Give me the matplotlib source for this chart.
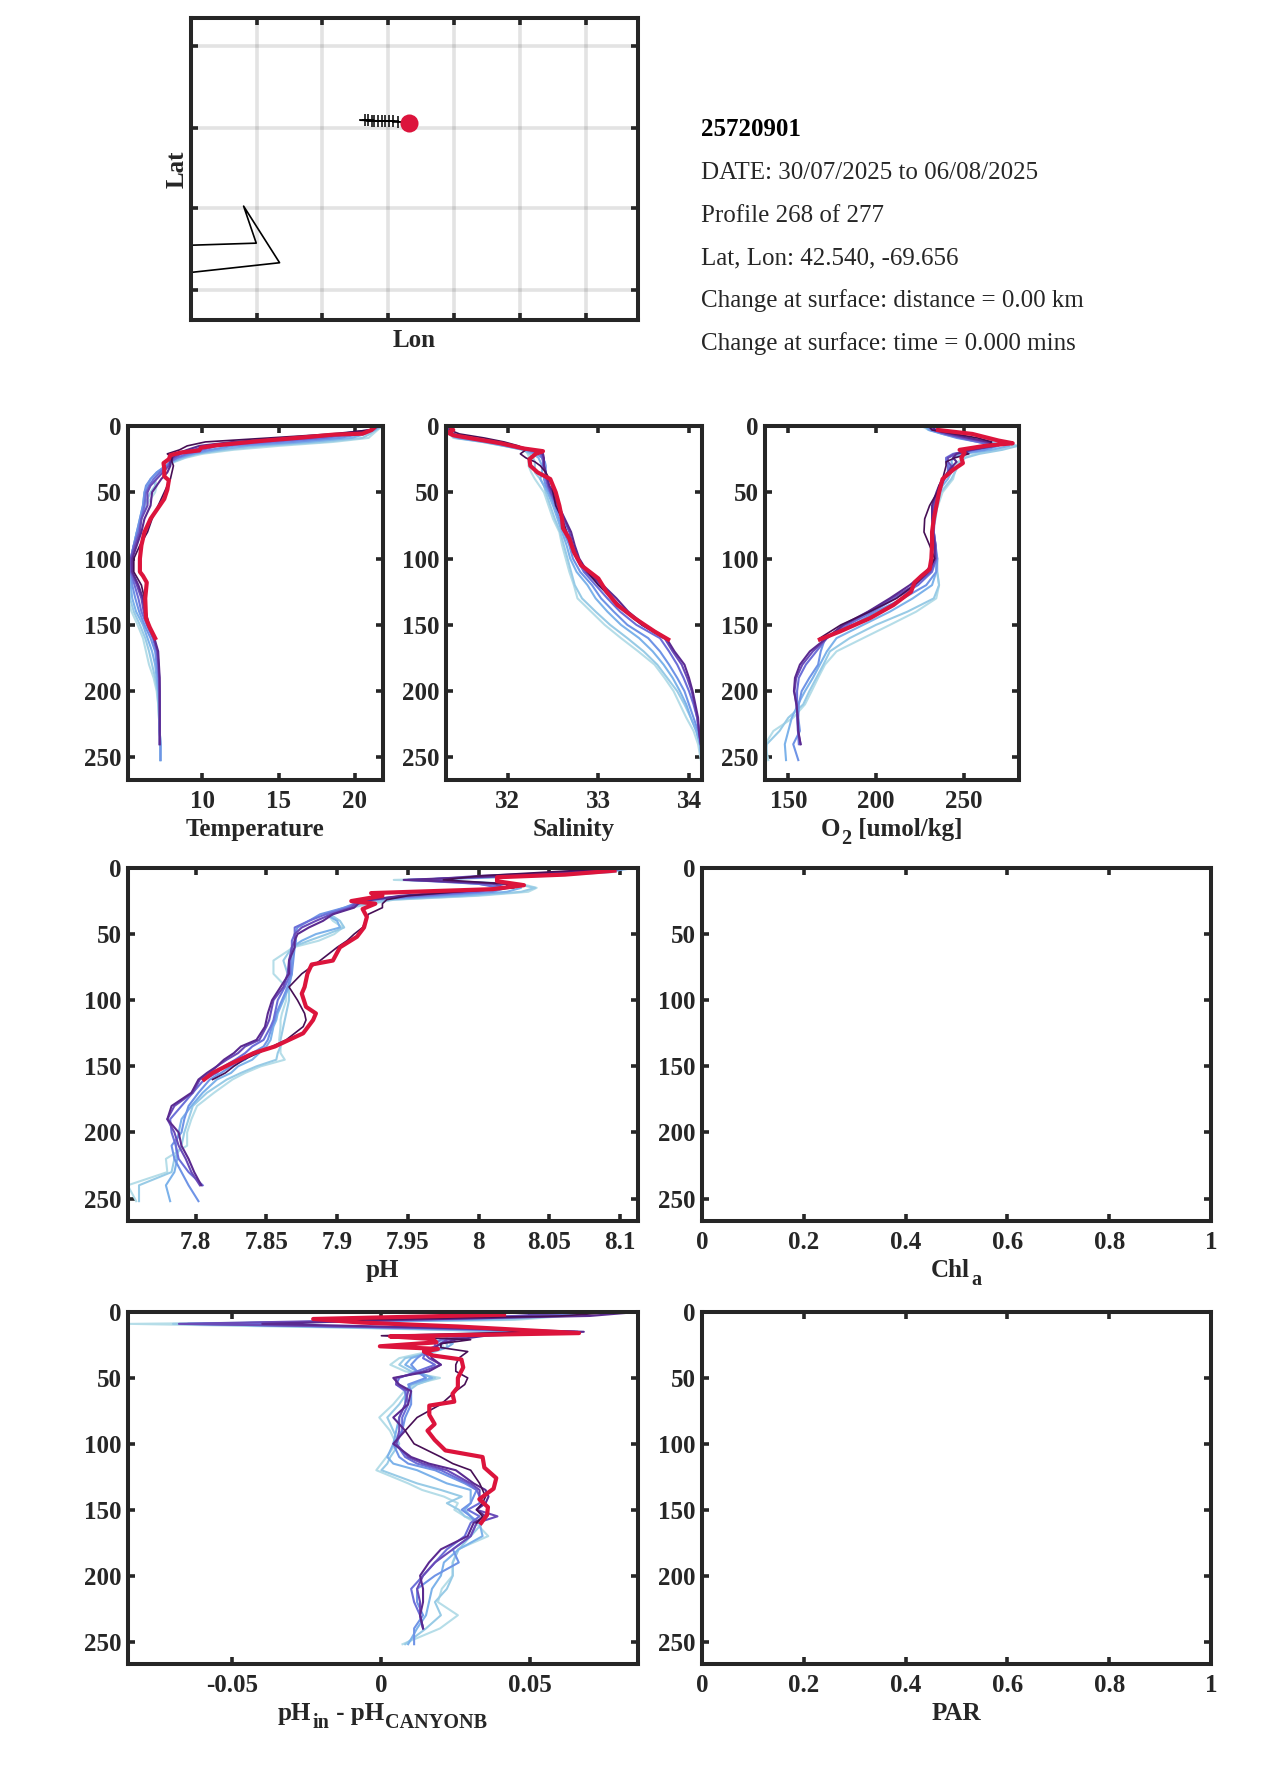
import matplotlib
matplotlib.use('Agg')
import matplotlib.pyplot as plt

plt.rcParams['font.family'] = ['Liberation Serif', 'DejaVu Serif']
plt.rcParams['font.weight'] = 'bold'

W, H = 1275, 1771
dark = '#262626'
red = '#dc143c'
# light blue to dark purple, oldest profile first
colours = ['#b5dde8', '#98cbe6', '#7cb2ea', '#6f94e6', '#6c6fd8', '#6a4bb8', '#5b2a90', '#470f55']

# depth levels
z_ctd = [0, 3, 6, 9, 12, 15, 18, 21, 24, 27, 30, 35, 40, 45, 50, 60, 70, 80, 90, 100, 110, 120, 130, 140, 150, 160,
         170, 180, 190, 200, 210, 220, 230, 240, 252]
z_ph = [0, 3, 6, 9, 12, 15, 18, 21, 24, 27, 30, 35, 40, 45, 50, 55, 60, 70, 80, 90, 100, 110, 115, 120, 130, 135,
        140, 145, 150, 155, 160, 170, 180, 190, 200, 210, 220, 230, 240, 252]

# temperature
temp_l1 = [21.8, 21.5, 21.2, 20.9, 18.6, 15.0, 12.0, 10.0, 8.9, 8.2, 7.7, 7.3, 6.9, 7.0, 6.9, 6.3, 6.0, 5.7, 5.5, 5.3, 5.2, 5.15, 5.1, 5.35, 5.75, 6.1, 6.3, 6.5, 6.8, 7.0, 7.1, 7.15, 7.2, 7.25, 7.25]
temp_l2 = [21.8, 21.4, 21.0, 20.5, 18.0, 14.0, 11.5, 9.7, 8.8, 8.1, 7.7, 7.2, 6.8, 6.9, 6.6, 6.2, 6.0, 5.7, 5.5, 5.3, 5.2, 5.2, 5.25, 5.5, 5.9, 6.25, 6.5, 6.7, 6.9, 7.05, 7.1, 7.15, 7.2, 7.25, 7.25]
temp_b1 = [21.7, 21.3, 20.7, 19.8, 17.0, 13.0, 11.0, 9.5, 8.6, 8.0, 7.6, 7.0, 6.6, 6.4, 6.2, 6.1, 5.9, 5.7, 5.5, 5.3, 5.2, 5.3, 5.4, 5.65, 6.1, 6.4, 6.7, 6.9, 7.0, 7.1, 7.15, 7.2, 7.2, 7.25, 7.25]
temp_b2 = [21.6, 21.2, 20.4, 19.0, 16.0, 12.0, 10.5, 9.3, 8.4, 7.9, 7.6, 7.0, 6.6, 6.3, 6.2, 6.1, 5.9, 5.7, 5.5, 5.3, 5.3, 5.4, 5.6, 5.85, 6.2, 6.6, 6.9, 7.0, 7.1, 7.15, 7.2, 7.2, 7.2, 7.25, 7.25]
temp_s1 = [21.5, 21.1, 20.0, 18.0, 14.5, 11.0, 10.0, 9.0, 8.3, 7.9, 7.7, 7.2, 6.8, 6.5, 6.3, 6.2, 6.0, 5.8, 5.5, 5.3, 5.3, 5.55, 5.8, 6.0, 6.35, 6.75, 7.0, 7.1, 7.15, 7.18, 7.2, 7.2, 7.2, 7.2]
temp_s2 = [21.5, 21.1, 19.6, 17.0, 13.0, 10.4, 9.4, 8.6, 8.1, 7.9, 7.8, 7.4, 7.0, 6.6, 6.4, 6.4, 6.0, 5.9, 5.6, 5.3, 5.35, 5.7, 6.0, 6.15, 6.4, 6.8, 7.05, 7.12, 7.17, 7.2, 7.2, 7.2, 7.2, 7.2]
temp_p1 = [21.4, 21.0, 19.0, 16.0, 12.0, 9.8, 9.0, 8.3, 8.0, 7.9, 7.9, 7.7, 7.3, 7.0, 6.7, 6.6, 6.2, 6.0, 5.7, 5.4, 5.4, 5.8, 6.1, 6.25, 6.45, 6.85, 7.1, 7.15, 7.2, 7.2, 7.2, 7.2, 7.2, 7.2]
temp_d = [21.3, 21.0, 18.5, 14.4, 10.2, 9.0, 8.5, 7.7, 8.0, 8.0, 8.1, 8.0, 7.9, 7.7, 7.5, 7.1, 6.7, 6.4, 5.9, 5.5, 5.5, 6.0, 6.2, 6.3, 6.5, 6.9]
temp_red_z = [1, 3, 5.8, 6.5, 8.8, 11.3, 14.6, 16.4, 18.4, 20, 22, 25, 28, 32, 38, 41, 48, 55, 60, 70, 80, 90, 100, 110, 113, 118, 130, 145, 152, 160]
temp_red = [21.3, 21.1, 20.5, 18.6, 16.4, 13.8, 10.9, 9.9, 9.8, 8.6, 7.9, 7.8, 7.45, 7.5, 7.5, 7.8, 7.7, 7.5, 7.2, 6.6, 6.2, 6.0, 5.9, 5.9, 6.1, 6.35, 6.25, 6.3, 6.55, 6.9]

# salinity
sal_l1 = [31.36, 31.35, 31.36, 31.4, 31.72, 31.95, 32.2, 32.22, 32.24, 32.23, 32.23, 32.26, 32.3, 32.35, 32.4, 32.45, 32.5, 32.57, 32.6, 32.64, 32.68, 32.73, 32.77, 32.92, 33.07, 33.25, 33.44, 33.62, 33.73, 33.83, 33.9, 33.97, 34.05, 34.1, 34.13]
sal_l2 = [31.36, 31.35, 31.36, 31.42, 31.72, 31.96, 32.17, 32.24, 32.28, 32.3, 32.3, 32.3, 32.36, 32.4, 32.42, 32.47, 32.52, 32.58, 32.62, 32.66, 32.7, 32.74, 32.82, 32.97, 33.13, 33.32, 33.5, 33.65, 33.76, 33.87, 33.95, 34.02, 34.08, 34.12, 34.14]
sal_b1 = [31.34, 31.34, 31.36, 31.44, 31.74, 31.97, 32.17, 32.28, 32.34, 32.36, 32.38, 32.38, 32.36, 32.4, 32.44, 32.5, 32.55, 32.6, 32.65, 32.69, 32.76, 32.88, 32.97, 33.1, 33.25, 33.45, 33.6, 33.72, 33.82, 33.9, 33.97, 34.02, 34.08, 34.12, 34.14]
sal_b2 = [31.34, 31.34, 31.36, 31.46, 31.76, 31.98, 32.2, 32.32, 32.38, 32.41, 32.42, 32.42, 32.4, 32.42, 32.46, 32.52, 32.57, 32.62, 32.68, 32.72, 32.8, 32.93, 33.03, 33.17, 33.32, 33.55, 33.68, 33.78, 33.87, 33.95, 34.0, 34.05, 34.1, 34.13, 34.14]
sal_s1 = [31.34, 31.34, 31.38, 31.55, 31.82, 32.02, 32.22, 32.36, 32.38, 32.39, 32.39, 32.42, 32.42, 32.44, 32.47, 32.54, 32.6, 32.65, 32.7, 32.76, 32.84, 32.97, 33.1, 33.24, 33.42, 33.68, 33.78, 33.87, 33.94, 34.0, 34.05, 34.09, 34.11, 34.13]
sal_s2 = [31.34, 31.34, 31.38, 31.55, 31.84, 32.04, 32.24, 32.38, 32.39, 32.4, 32.4, 32.42, 32.43, 32.45, 32.48, 32.55, 32.62, 32.68, 32.72, 32.78, 32.86, 33.02, 33.16, 33.3, 33.48, 33.73, 33.82, 33.92, 33.98, 34.03, 34.06, 34.09, 34.11, 34.13]
sal_p1 = [31.36, 31.36, 31.4, 31.58, 31.88, 32.08, 32.28, 32.39, 32.4, 32.4, 32.4, 32.42, 32.44, 32.46, 32.5, 32.56, 32.63, 32.7, 32.74, 32.79, 32.88, 33.05, 33.2, 33.33, 33.51, 33.75, 33.84, 33.95, 34.0, 34.04, 34.07, 34.1, 34.11, 34.13]
sal_d = [31.36, 31.36, 31.47, 31.74, 31.96, 32.12, 32.2, 32.14, 32.2, 32.3, 32.36, 32.42, 32.46, 32.49, 32.5, 32.53, 32.6, 32.65, 32.7, 32.78, 32.88, 33.0, 33.15, 33.3, 33.48, 33.72]
sal_red_z = [0, 3, 5, 7, 10, 13, 17, 19, 21, 25, 30, 35, 40, 50, 60, 70, 77, 85, 95, 105, 115, 125, 135, 145, 155, 161]
sal_red = [31.36, 31.4, 31.34, 31.4, 31.66, 31.92, 32.18, 32.39, 32.31, 32.24, 32.25, 32.33, 32.47, 32.53, 32.57, 32.6, 32.61, 32.68, 32.73, 32.81, 33.0, 33.09, 33.21, 33.4, 33.62, 33.77]

# oxygen
o2_l1 = [226, 230, 240, 250, 272, 278, 268, 257, 250, 247, 246, 245, 244, 241, 238, 235.4, 233, 231.6, 232.5, 234.4, 234.8, 236, 234.4, 223, 208, 192.7, 177.5, 170.9, 167, 163.3, 159.5, 152.8, 141.5, 136.8, 138.6]
o2_l2 = [227, 231, 242, 252, 270, 281, 272, 259, 251, 248, 247, 245, 243, 240, 237, 235, 234, 232, 233, 235, 235, 236, 233, 218, 200, 185, 173.7, 170, 166, 162, 158.5, 150, 145, 137.7, 137.3]
o2_b1 = [228, 230, 238, 248, 262, 276, 266, 250, 244, 243, 244, 243, 241, 238, 236, 234.5, 233, 232.5, 233.5, 234.5, 234.4, 232, 221, 208, 192.7, 177.5, 172, 168, 164, 159.5, 155.5, 152, 150, 148, 148.7]
o2_b2 = [229, 231, 238, 246, 258, 270, 262, 246, 241, 241, 242, 241, 239, 237, 235, 234, 233, 233, 234, 235, 234.4, 228.7, 215.5, 200, 187, 171, 168.5, 167, 162, 157.6, 156, 155.7, 156.6, 152.8, 155.7]
o2_s1 = [230, 232, 240, 248, 258, 268, 256, 244, 240, 240, 241, 241, 239, 237, 235, 234, 233.5, 233, 234, 234.5, 232, 224, 211, 198, 184, 172, 166, 160, 156, 155, 155, 155, 155.5, 156]
o2_s2 = [232, 233, 240, 250, 262, 268, 255, 245, 241, 241, 243, 241, 239, 237, 235, 233, 233, 233, 234, 234, 231, 222, 209, 196, 182, 172, 164, 158, 154.5, 153.5, 154.5, 155.5, 155.5, 157]
o2_p1 = [232, 234, 243, 253, 264, 267, 254, 246, 244, 246, 244, 241, 238, 236, 234.5, 232, 232, 232.5, 233.5, 233.5, 228.7, 219.3, 207.9, 195.5, 181.3, 171.8, 162.3, 156.6, 153.8, 153.2, 154.7, 155.3, 155.7, 157]
o2_d = [230, 232, 245, 258, 266, 264, 248, 253, 245, 240, 240, 239, 238, 236, 235, 230.6, 227.8, 227.4, 230.6, 233.5, 229.7, 222, 211.7, 196.5, 180, 168]
o2_red_z = [3, 6, 11, 13, 15, 18, 20, 24, 28, 33, 40, 50, 60, 70, 80, 90, 100, 108, 113, 118, 125, 135, 145, 155, 161]
o2_red = [235.4, 255, 270, 278, 262, 247.7, 250.6, 248.7, 249.6, 244, 238, 236, 234.5, 233, 232, 232, 231.6, 230.6, 226, 222, 220, 210, 196.5, 179.4, 168]

# pH
ph_l1 = [8.102, 8.096, 8.05, 7.94, 8.03, 8.041, 8.035, 8.0, 7.94, 7.925, 7.91, 7.893, 7.897, 7.904, 7.898, 7.887, 7.869, 7.855, 7.855, 7.864, 7.864, 7.861, 7.86, 7.86, 7.859, 7.86, 7.86, 7.863, 7.846, 7.835, 7.826, 7.813, 7.801, 7.797, 7.794, 7.794, 7.779, 7.78, 7.752, 7.758]
ph_l2 = [8.103, 8.094, 8.045, 7.96, 8.025, 8.04, 8.03, 7.995, 7.938, 7.922, 7.908, 7.895, 7.902, 7.905, 7.893, 7.88, 7.868, 7.862, 7.865, 7.866, 7.866, 7.864, 7.863, 7.862, 7.86, 7.86, 7.858, 7.857, 7.843, 7.832, 7.822, 7.808, 7.798, 7.795, 7.792, 7.79, 7.785, 7.783, 7.76, 7.76]
ph_b1 = [8.11, 8.09, 8.03, 7.95, 8.02, 8.03, 8.02, 7.985, 7.93, 7.915, 7.905, 7.892, 7.9, 7.902, 7.885, 7.875, 7.868, 7.868, 7.868, 7.866, 7.862, 7.858, 7.857, 7.855, 7.853, 7.85, 7.845, 7.84, 7.83, 7.825, 7.815, 7.805, 7.797, 7.79, 7.788, 7.786, 7.787, 7.785, 7.779, 7.782]
ph_b2 = [8.108, 8.085, 8.02, 7.96, 8.0, 8.02, 8.01, 7.97, 7.925, 7.912, 7.905, 7.888, 7.88, 7.872, 7.87, 7.871, 7.87, 7.869, 7.868, 7.865, 7.861, 7.857, 7.856, 7.854, 7.851, 7.848, 7.84, 7.835, 7.825, 7.818, 7.81, 7.802, 7.795, 7.792, 7.79, 7.783, 7.785, 7.79, 7.795, 7.802]
ph_s1 = [8.105, 8.08, 8.03, 7.95, 8.0, 8.015, 8.0, 7.96, 7.92, 7.912, 7.908, 7.892, 7.88, 7.87, 7.87, 7.868, 7.868, 7.867, 7.867, 7.863, 7.858, 7.856, 7.855, 7.853, 7.848, 7.84, 7.835, 7.828, 7.82, 7.815, 7.806, 7.798, 7.79, 7.782, 7.783, 7.786, 7.788, 7.795, 7.805]
ph_s2 = [8.108, 8.07, 8.0, 7.96, 8.01, 8.02, 7.99, 7.95, 7.92, 7.913, 7.91, 7.896, 7.885, 7.875, 7.87, 7.87, 7.868, 7.866, 7.865, 7.862, 7.855, 7.853, 7.852, 7.85, 7.845, 7.835, 7.83, 7.822, 7.815, 7.81, 7.803, 7.798, 7.785, 7.78, 7.785, 7.788, 7.793, 7.797, 7.803]
ph_p1 = [8.113, 8.06, 8.02, 7.947, 8.02, 8.02, 7.98, 7.945, 7.925, 7.915, 7.912, 7.897, 7.89, 7.88, 7.872, 7.87, 7.87, 7.866, 7.866, 7.86, 7.854, 7.851, 7.85, 7.849, 7.843, 7.832, 7.827, 7.82, 7.815, 7.808, 7.802, 7.797, 7.783, 7.78, 7.788, 7.79, 7.795, 7.799, 7.804]
ph_d = [8.1, 8.05, 8.0, 7.975, 8.02, 8.025, 7.985, 7.95, 7.935, 7.932, 7.932, 7.922, 7.92, 7.918, 7.912, 7.907, 7.9, 7.888, 7.875, 7.866, 7.872, 7.877, 7.878, 7.876, 7.864, 7.854, 7.844, 7.834, 7.827, 7.821, 7.812]
ph_red_z = [2, 5, 7, 10, 13, 16, 19, 21, 25, 27, 31, 37, 45, 52, 60, 70, 73, 80, 90, 95, 105, 110, 115, 125, 135, 140, 148, 155, 160]
ph_red = [8.096, 8.061, 8.013, 8.013, 8.032, 8.01, 7.924, 7.932, 7.91, 7.927, 7.918, 7.921, 7.919, 7.914, 7.902, 7.897, 7.882, 7.879, 7.877, 7.875, 7.878, 7.885, 7.883, 7.876, 7.856, 7.841, 7.825, 7.812, 7.806]

# pH minus CANYON-B estimate
dph_l1 = [.07, .062, .045, -.0845, -.01, .044, .032, .016, .02, .021, .016, .006, .003, .008, .0197, .011, .0077, .004, -.0007, .0029, .005, .0017, .0, -.0017, .009, .0137, .021, .0257, .0245, .028, .0317, .0359, .0257, .0239, .0239, .0203, .019, .0257, .0197, .0071]
dph_l2 = [.071, .06, .04, -.07, -.005, .05, .028, .018, .022, .022, .018, .008, .006, .01, .018, .012, .009, .006, .002, .004, .006, .003, .002, .0, .012, .02, .027, .022, .026, .028, .034, .03, .026, .024, .024, .022, .018, .02, .015, .008]
dph_b1 = [.07, .058, .03, -.065, .0, .05, .024, .02, .024, .022, .017, .01, .008, .012, .017, .01, .008, .008, .006, .005, .004, .002, .004, .012, .022, .03, .03, .03, .028, .03, .033, .034, .026, .021, .02, .017, .016, .015, .012, .009]
dph_b2 = [.069, .055, .02, -.065, .005, .06, .022, .022, .02, .02, .015, .012, .01, .012, .015, .009, .01, .01, .008, .007, .004, .006, .009, .018, .028, .032, .031, .03, .027, .03, .032, .03, .024, .026, .018, .012, .012, .014, .011, .011]
dph_s1 = [.068, .05, .01, -.06, .01, .065, .03, .02, .018, .018, .015, .014, .018, .012, .006, .005, .008, .009, .007, .007, .005, .008, .012, .02, .029, .032, .033, .033, .029, .033, .03, .028, .022, .018, .014, .01, .011, .013, .014]
dph_s2 = [.066, .045, .0, -.068, .015, .066, .03, .022, .02, .017, .014, .016, .02, .014, .005, .005, .009, .008, .006, .006, .005, .009, .014, .022, .03, .033, .033, .034, .032, .039, .032, .03, .024, .018, .014, .012, .013, .013, .014]
dph_p1 = [.086, .07, .005, -.04, .02, .068, .035, .025, .02, .018, .016, .017, .02, .016, .004, .006, .01, .009, .004, .008, .004, .01, .016, .025, .031, .035, .036, .035, .032, .035, .031, .029, .02, .016, .013, .014, .014, .013, .014]
dph_d = [.08, .06, -.01, .0, .03, .05, .0, .03, .02, .02, .029, .026, .025, .025, .029, .028, .025, .02, .012, .008, .011, .02, .024, .03, .033, .034, .035, .034, .032, .034, .032]
dph_red_z = [2, 5.3, 8, 11, 16, 18.5, 20.5, 23, 26, 28, 30, 33, 36, 42, 50, 57, 62, 68, 71, 78, 85, 90, 97, 105, 110, 118, 126, 134, 142, 148, 154, 160]
dph_red = [.0412, -.0229, -.0067, .0257, .0664, .0029, .0173, .0185, -.0005, .019, .0143, .0173, .0269, .0275, .0257, .0257, .0239, .0245, .0161, .0161, .0179, .0155, .0179, .0215, .034, .0346, .0386, .0377, .0329, .0358, .0355, .0335]

# float track
track_lon = [-70.022, -69.989, -69.964, -69.939, -69.921, -69.888, -69.863, -69.838, -69.805, -69.775, -69.737, -69.656]
track_lat = [42.558, 42.557, 42.557, 42.556, 42.556, 42.555, 42.555, 42.554, 42.553, 42.552, 42.55, 42.54]
coast_lon = [-71.6, -70.815, -70.911, -70.638, -71.6]
coast_lat = [41.785, 41.805, 42.032, 41.685, 41.6]
lon_ticks = [-70.813, -70.313, -69.813, -69.313, -68.813, -68.313]
lat_ticks = [41.515, 42.018, 42.513, 43.015]

info = ['25720901', 'DATE: 30/07/2025 to 06/08/2025', 'Profile 268 of 277', 'Lat, Lon: 42.540, -69.656',
        'Change at surface: distance = 0.00 km', 'Change at surface: time = 0.000 mins']
info_y = [130, 173, 216, 258, 301, 344]
depth_ticks = [0, 50, 100, 150, 200, 250]


def new_axes(left, top, right, bottom):
    ax = fig.add_axes([left / W, 1 - bottom / H, (right - left) / W, (bottom - top) / H])
    for s in ax.spines.values():
        s.set_linewidth(2.9)
        s.set_color(dark)
    ax.tick_params(direction='in', top=True, right=True, length=5, width=2.6, color=dark, labelcolor=dark,
                   labelsize=18)
    ax.tick_params(axis='x', pad=7.5)
    ax.tick_params(axis='y', pad=4.5)
    return ax


def axis_label(ax, parts):
    # label under an axes, parts are (text, is_subscript), subscripts are bigger than mathtext makes them
    box = ax.get_position()
    baseline = box.y0 * H - 56
    pieces = []
    total = 0
    for s, is_sub in parts:
        t = fig.text(0, (baseline - 8 if is_sub else baseline) / H, s, fontsize=14.5 if is_sub else 18,
                     fontweight='bold', color=dark, va='baseline', ha='left')
        w = t.get_window_extent(renderer).width
        pieces.append((t, total))
        total += w + 1
    x0 = (box.x0 + box.x1) / 2 * W - total / 2
    for t, dx in pieces:
        t.set_x((x0 + dx) / W)


def profile_axes(left, top, right, bottom, xlim, xticks, xticklabels, parts):
    ax = new_axes(left, top, right, bottom)
    ax.set_xlim(xlim)
    ax.set_ylim(267, 0)
    ax.set_xticks(xticks)
    ax.set_xticklabels(xticklabels)
    ax.set_yticks(depth_ticks)
    axis_label(ax, parts)
    return ax


def draw_profiles(ax, z, series, zred, red_vals):
    for i, vals in enumerate(series):
        ax.plot(vals, z[:len(vals)], color=colours[i], lw=1.2 if i == 7 else 1.5)
    ax.plot(red_vals, zred, color=red, lw=3)


fig = plt.figure(figsize=(W / 100, H / 100), dpi=100)
renderer = fig.canvas.get_renderer()

# map
ax = new_axes(191, 18, 638, 320)
ax.set_xlim(-71.31, -67.919)
ax.set_ylim(41.334, 43.185)
ax.set_xticks(lon_ticks)
ax.set_yticks(lat_ticks)
ax.set_xticklabels([])
ax.set_yticklabels([])
ax.grid(True, color='black', alpha=0.11, lw=2.6)
ax.set_axisbelow(True)
ax.plot(coast_lon, coast_lat, color='black', lw=1.2)
ax.plot(track_lon, track_lat, color='black', lw=1.1, marker='+', ms=8, mew=1.1, markevery=list(range(1, 11)))
ax.plot(track_lon[-1], track_lat[-1], 'o', color=red, ms=13, mew=0)
ax.set_xlabel('Lon', fontsize=18, fontweight='bold', color=dark, labelpad=-1)
ax.set_ylabel('Lat', fontsize=18, fontweight='bold', color=dark, labelpad=-3)

for i, s in enumerate(info):
    fig.text(701 / W, 1 - info_y[i] / H, s, fontsize=18, va='center', color='black' if i == 0 else dark,
             fontweight='bold' if i == 0 else 'normal')

# top row
ax = profile_axes(127.7, 426, 383, 780, (5.1, 21.85), [10, 15, 20], ['10', '15', '20'], [('Temperature', 0)])
draw_profiles(ax, z_ctd, [temp_l1, temp_l2, temp_b1, temp_b2, temp_s1, temp_s2, temp_p1, temp_d], temp_red_z, temp_red)

ax = profile_axes(446, 426, 701.7, 780, (31.32, 34.14), [32, 33, 34], ['32', '33', '34'], [('Salinity', 0)])
draw_profiles(ax, z_ctd, [sal_l1, sal_l2, sal_b1, sal_b2, sal_s1, sal_s2, sal_p1, sal_d], sal_red_z, sal_red)

ax = profile_axes(765, 426, 1019, 780, (136.7, 281.6), [150, 200, 250], ['150', '200', '250'],
                  [('O', 0), ('2', 1), (' [umol/kg]', 0)])
draw_profiles(ax, z_ctd, [o2_l1, o2_l2, o2_b1, o2_b2, o2_s1, o2_s2, o2_p1, o2_d], o2_red_z, o2_red)

# middle row
ph_ticks = [7.8, 7.85, 7.9, 7.95, 8, 8.05, 8.1]
ax = profile_axes(127.7, 868, 638, 1221, (7.752, 8.1126), ph_ticks, ['7.8', '7.85', '7.9', '7.95', '8', '8.05', '8.1'],
                  [('pH', 0)])
draw_profiles(ax, z_ph, [ph_l1, ph_l2, ph_b1, ph_b2, ph_s1, ph_s2, ph_p1, ph_d], ph_red_z, ph_red)

empty_ticks = [0, 0.2, 0.4, 0.6, 0.8, 1]
empty_labels = ['0', '0.2', '0.4', '0.6', '0.8', '1']
profile_axes(702, 868, 1211, 1221, (0, 1), empty_ticks, empty_labels, [('Chl', 0), ('a', 1)])

# bottom row
ax = profile_axes(127.7, 1312, 638, 1664, (-0.0852, 0.0862), [-0.05, 0, 0.05], ['-0.05', '0', '0.05'],
                  [('pH', 0), ('in', 1), (' - pH', 0), ('CANYONB', 1)])
draw_profiles(ax, z_ph, [dph_l1, dph_l2, dph_b1, dph_b2, dph_s1, dph_s2, dph_p1, dph_d], dph_red_z, dph_red)

profile_axes(702, 1312, 1211, 1664, (0, 1), empty_ticks, empty_labels, [('PAR', 0)])

fig.savefig('out.png', dpi=100)
